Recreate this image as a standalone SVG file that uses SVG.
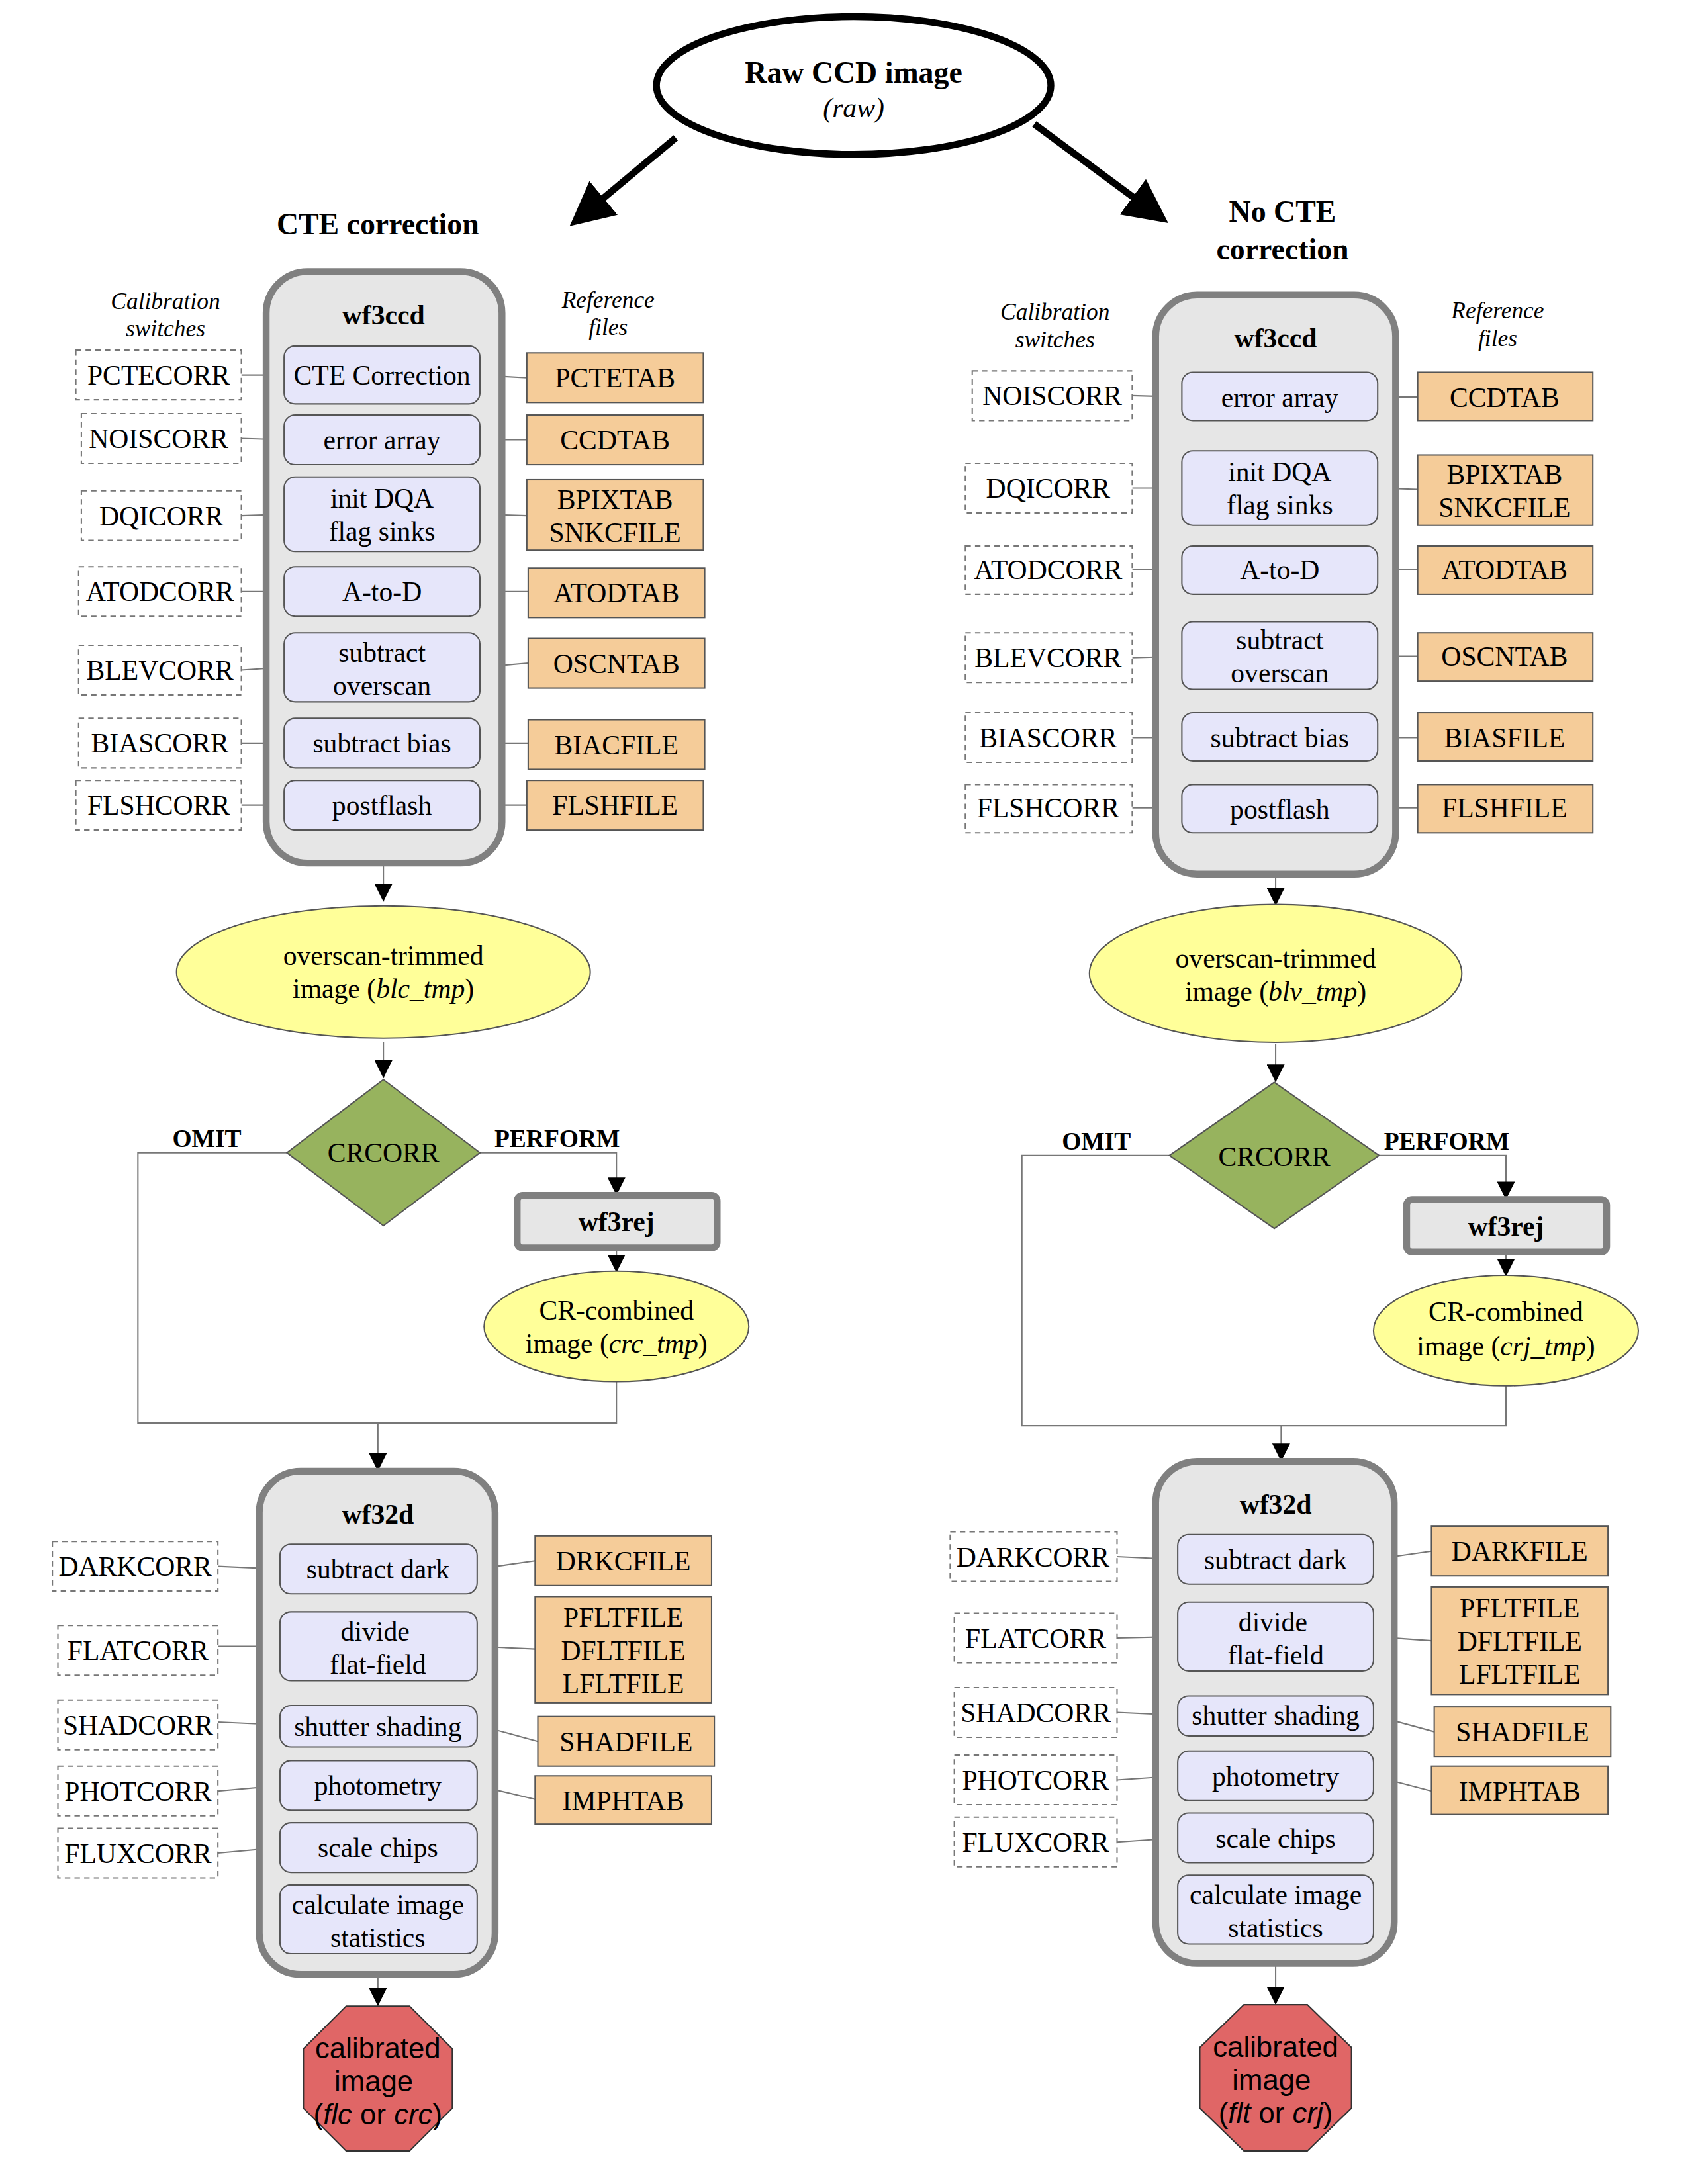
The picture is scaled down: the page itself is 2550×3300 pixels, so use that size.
<svg xmlns="http://www.w3.org/2000/svg" width="2550" height="3300" viewBox="0 0 2550 3300">
<defs>
<style>
text{font-family:"Liberation Serif","Times New Roman",serif;font-size:20px;text-anchor:middle;fill:#000}
.b{font-weight:bold}
.i{font-style:italic;font-size:17px}
.s{font-family:"Liberation Sans",Arial,sans-serif;font-size:21px}
.outer{fill:#e6e6e6;stroke:#808080;stroke-width:5}
.in{fill:#e6e6fa;stroke:#555;stroke-width:1}
.sw{fill:#fff;stroke:#777;stroke-width:1;stroke-dasharray:4 3}
.rf{fill:#f5cc99;stroke:#555;stroke-width:1}
.ell{fill:#ffff99;stroke:#555;stroke-width:1}
.dia{fill:#97b35e;stroke:#555;stroke-width:1}
.oct{fill:#e06666;stroke:#333;stroke-width:1}
.c{fill:none;stroke:#777;stroke-width:1}
.ca{fill:none;stroke:#777;stroke-width:1;marker-end:url(#ah)}
.big{fill:none;stroke:#000;stroke-width:5;marker-end:url(#bh)}
</style>
<marker id="ah" viewBox="0 0 10 10" refX="10" refY="5" markerWidth="13" markerHeight="13" markerUnits="userSpaceOnUse" orient="auto"><path d="M0,0L10,5L0,10z" fill="#000"/></marker>
<marker id="bh" viewBox="0 0 10 10" refX="8" refY="5" markerWidth="32" markerHeight="32" markerUnits="userSpaceOnUse" orient="auto"><path d="M0,0L10,5L0,10z" fill="#000"/></marker>
</defs>
<rect width="2550" height="3300" fill="#fff"/>
<g transform="scale(2.0833)">
<g id="raw"><ellipse cx="619" cy="62" rx="143" ry="50" fill="#fff" stroke="#000" stroke-width="5"/><text x="619" y="60" class="b" style="font-size:22px">Raw CCD image</text><text x="619" y="85" style="font-style:italic">(raw)</text></g>
<g id="titles"><text x="274" y="170" class="b" style="font-size:22px">CTE correction</text><text x="930" y="161" class="b" style="font-size:22px">No CTE</text><text x="930" y="188" class="b" style="font-size:22px">correction</text>
<text x="120" y="224" class="i">Calibration</text><text x="120" y="244" class="i">switches</text><text x="441" y="223" class="i">Reference</text><text x="441" y="243" class="i">files</text>
<text x="765" y="232" class="i">Calibration</text><text x="765" y="252" class="i">switches</text><text x="1086" y="231" class="i">Reference</text><text x="1086" y="251" class="i">files</text></g>

<g id="connectors">
<line class="big" x1="490" y1="100" x2="418" y2="160"/><line class="big" x1="750" y1="90" x2="842" y2="158"/>
<!-- left ccd -->
<line class="ca" x1="175" y1="272" x2="206" y2="272"/><line class="ca" x1="382" y1="274" x2="348" y2="272"/>
<line class="ca" x1="175" y1="318" x2="206" y2="319"/><line class="ca" x1="382" y1="319" x2="348" y2="319"/>
<line class="ca" x1="175" y1="374" x2="206" y2="373"/><line class="ca" x1="382" y1="374" x2="348" y2="373"/>
<line class="ca" x1="175" y1="429" x2="206" y2="429"/><line class="ca" x1="383" y1="429" x2="348" y2="429"/>
<line class="ca" x1="175" y1="486" x2="206" y2="484"/><line class="ca" x1="383" y1="481" x2="348" y2="484"/>
<line class="ca" x1="175" y1="539" x2="206" y2="539"/><line class="ca" x1="383" y1="539" x2="348" y2="539"/>
<line class="ca" x1="175" y1="584" x2="206" y2="584"/><line class="ca" x1="382" y1="584" x2="348" y2="584"/>
<line class="ca" x1="278" y1="626" x2="278" y2="654"/><line class="ca" x1="278" y1="756" x2="278" y2="782"/>
<polyline class="ca" points="348,836 447,836 447,867"/><line class="ca" x1="447" y1="905" x2="447" y2="923"/>
<polyline class="c" points="208,836 100,836 100,1032 447,1032 447,1002"/><line class="ca" x1="274" y1="1032" x2="274" y2="1067"/>
<!-- left 2d -->
<line class="ca" x1="158" y1="1136" x2="203" y2="1138"/><line class="ca" x1="388" y1="1132" x2="346" y2="1138"/>
<line class="ca" x1="158" y1="1194" x2="203" y2="1194"/><line class="ca" x1="388" y1="1196" x2="346" y2="1194"/>
<line class="ca" x1="158" y1="1249" x2="203" y2="1251"/><line class="ca" x1="390" y1="1263" x2="346" y2="1251"/>
<line class="ca" x1="158" y1="1299" x2="203" y2="1295"/><line class="ca" x1="388" y1="1305" x2="346" y2="1295"/>
<line class="ca" x1="158" y1="1344" x2="203" y2="1340"/>
<line class="ca" x1="274" y1="1432" x2="274" y2="1455"/>
<!-- right ccd -->
<line class="ca" x1="821" y1="287" x2="857" y2="288"/><line class="ca" x1="1028" y1="288" x2="999" y2="288"/>
<line class="ca" x1="821" y1="354" x2="857" y2="354"/><line class="ca" x1="1028" y1="355" x2="999" y2="354"/>
<line class="ca" x1="821" y1="413" x2="857" y2="413"/><line class="ca" x1="1028" y1="413" x2="999" y2="413"/>
<line class="ca" x1="821" y1="477" x2="857" y2="476"/><line class="ca" x1="1028" y1="476" x2="999" y2="476"/>
<line class="ca" x1="821" y1="535" x2="857" y2="535"/><line class="ca" x1="1028" y1="535" x2="999" y2="535"/>
<line class="ca" x1="821" y1="586" x2="857" y2="586"/><line class="ca" x1="1028" y1="586" x2="999" y2="586"/>
<line class="ca" x1="925" y1="634" x2="925" y2="657"/><line class="ca" x1="925" y1="757" x2="925" y2="785"/>
<polyline class="ca" points="1000,838 1092,838 1092,870"/><line class="ca" x1="1092" y1="908" x2="1092" y2="926"/>
<polyline class="c" points="848,838 741,838 741,1034 1092,1034 1092,1005"/><line class="ca" x1="929" y1="1034" x2="929" y2="1060"/>
<!-- right 2d -->
<line class="ca" x1="810" y1="1129" x2="854" y2="1131"/><line class="ca" x1="1038" y1="1125" x2="996" y2="1131"/>
<line class="ca" x1="810" y1="1188" x2="854" y2="1187"/><line class="ca" x1="1038" y1="1190" x2="996" y2="1187"/>
<line class="ca" x1="810" y1="1242" x2="854" y2="1244"/><line class="ca" x1="1040" y1="1256" x2="996" y2="1244"/>
<line class="ca" x1="810" y1="1291" x2="854" y2="1288"/><line class="ca" x1="1038" y1="1299" x2="996" y2="1288"/>
<line class="ca" x1="810" y1="1336" x2="854" y2="1333"/>
<line class="ca" x1="925" y1="1424" x2="925" y2="1454"/>
</g>

<g id="wf3ccd_L"><rect class="outer" x="193" y="197" width="171" height="429" rx="30"/><text x="278" y="235" class="b">wf3ccd</text></g>
<g id="L_cte"><rect class="in" x="206" y="251" width="142" height="42" rx="8"/><text x="277" y="279">CTE Correction</text></g>
<g id="L_err"><rect class="in" x="206" y="301" width="142" height="36" rx="8"/><text x="277" y="326">error array</text></g>
<g id="L_dqa"><rect class="in" x="206" y="346" width="142" height="54" rx="8"/><text x="277" y="368">init DQA</text><text x="277" y="392">flag sinks</text></g>
<g id="L_atod"><rect class="in" x="206" y="411" width="142" height="36" rx="8"/><text x="277" y="436">A-to-D</text></g>
<g id="L_osc"><rect class="in" x="206" y="459" width="142" height="50" rx="8"/><text x="277" y="480">subtract</text><text x="277" y="504">overscan</text></g>
<g id="L_bias"><rect class="in" x="206" y="521" width="142" height="36" rx="8"/><text x="277" y="546">subtract bias</text></g>
<g id="L_pf"><rect class="in" x="206" y="566" width="142" height="36" rx="8"/><text x="277" y="591">postflash</text></g>
<g id="L_sw1"><rect class="sw" x="55" y="254" width="120" height="36"/><text x="115" y="279">PCTECORR</text></g>
<g id="L_sw2"><rect class="sw" x="59" y="300" width="116" height="36"/><text x="115" y="325">NOISCORR</text></g>
<g id="L_sw3"><rect class="sw" x="59" y="356" width="116" height="36"/><text x="117" y="381">DQICORR</text></g>
<g id="L_sw4"><rect class="sw" x="57" y="411" width="118" height="36"/><text x="116" y="436">ATODCORR</text></g>
<g id="L_sw5"><rect class="sw" x="57" y="468" width="118" height="36"/><text x="116" y="493">BLEVCORR</text></g>
<g id="L_sw6"><rect class="sw" x="57" y="521" width="118" height="36"/><text x="116" y="546">BIASCORR</text></g>
<g id="L_sw7"><rect class="sw" x="55" y="566" width="120" height="36"/><text x="115" y="591">FLSHCORR</text></g>
<g id="L_rf1"><rect class="rf" x="382" y="256" width="128" height="36"/><text x="446" y="281">PCTETAB</text></g>
<g id="L_rf2"><rect class="rf" x="382" y="301" width="128" height="36"/><text x="446" y="326">CCDTAB</text></g>
<g id="L_rf3"><rect class="rf" x="382" y="348" width="128" height="51" rx="0"/><text x="446" y="369">BPIXTAB</text><text x="446" y="393">SNKCFILE</text></g>
<g id="L_rf4"><rect class="rf" x="383" y="412" width="128" height="36"/><text x="447" y="437">ATODTAB</text></g>
<g id="L_rf5"><rect class="rf" x="383" y="463" width="128" height="36"/><text x="447" y="488">OSCNTAB</text></g>
<g id="L_rf6"><rect class="rf" x="383" y="522" width="128" height="36"/><text x="447" y="547">BIACFILE</text></g>
<g id="L_rf7"><rect class="rf" x="382" y="566" width="128" height="36"/><text x="446" y="591">FLSHFILE</text></g>

<g id="L_blc"><ellipse class="ell" cx="278" cy="705" rx="150" ry="48"/><text x="278" y="700">overscan-trimmed</text><text x="278" y="724">image (<tspan font-style="italic">blc_tmp</tspan>)</text></g>
<g id="L_cr"><polygon class="dia" points="278,783 348,836 278,889 208,836"/><text x="278" y="843">CRCORR</text><text x="150" y="832" class="b" style="font-size:18px">OMIT</text><text x="404" y="832" class="b" style="font-size:18px">PERFORM</text></g>
<g id="L_rej"><rect class="outer" x="375" y="867" width="145" height="38" rx="4"/><text x="447" y="893" class="b">wf3rej</text></g>
<g id="L_crc"><ellipse class="ell" cx="447" cy="962" rx="96" ry="40"/><text x="447" y="957">CR-combined</text><text x="447" y="981">image (<tspan font-style="italic">crc_tmp</tspan>)</text></g>

<g id="wf32d_L"><rect class="outer" x="188" y="1067" width="171" height="365" rx="30"/><text x="274" y="1105" class="b">wf32d</text></g>
<g id="L_dark"><rect class="in" x="203" y="1120" width="143" height="36" rx="8"/><text x="274" y="1145">subtract dark</text></g>
<g id="L_flat"><rect class="in" x="203" y="1169" width="143" height="50" rx="8"/><text x="272" y="1190">divide</text><text x="274" y="1214">flat-field</text></g>
<g id="L_shad"><rect class="in" x="203" y="1237" width="143" height="30" rx="8"/><text x="274" y="1259">shutter shading</text></g>
<g id="L_phot"><rect class="in" x="203" y="1277" width="143" height="36" rx="8"/><text x="274" y="1302">photometry</text></g>
<g id="L_scale"><rect class="in" x="203" y="1322" width="143" height="36" rx="8"/><text x="274" y="1347">scale chips</text></g>
<g id="L_stat"><rect class="in" x="203" y="1367" width="143" height="50" rx="8"/><text x="274" y="1388">calculate image</text><text x="274" y="1412">statistics</text></g>
<g id="L_sw8"><rect class="sw" x="38" y="1118" width="120" height="36"/><text x="98" y="1143">DARKCORR</text></g>
<g id="L_sw9"><rect class="sw" x="42" y="1179" width="116" height="36"/><text x="100" y="1204">FLATCORR</text></g>
<g id="L_sw10"><rect class="sw" x="42" y="1233" width="116" height="36"/><text x="100" y="1258">SHADCORR</text></g>
<g id="L_sw11"><rect class="sw" x="42" y="1281" width="116" height="36"/><text x="100" y="1306">PHOTCORR</text></g>
<g id="L_sw12"><rect class="sw" x="42" y="1326" width="116" height="36"/><text x="100" y="1351">FLUXCORR</text></g>
<g id="L_rf8"><rect class="rf" x="388" y="1114" width="128" height="36"/><text x="452" y="1139">DRKCFILE</text></g>
<g id="L_rf9"><rect class="rf" x="388" y="1158" width="128" height="77"/><text x="452" y="1180">PFLTFILE</text><text x="452" y="1204">DFLTFILE</text><text x="452" y="1228">LFLTFILE</text></g>
<g id="L_rf10"><rect class="rf" x="390" y="1245" width="128" height="36"/><text x="454" y="1270">SHADFILE</text></g>
<g id="L_rf11"><rect class="rf" x="388" y="1288" width="128" height="35"/><text x="452" y="1313">IMPHTAB</text></g>
<g id="L_out"><polygon class="oct" points="251,1455 297,1455 328,1486 328,1529 297,1560 251,1560 220,1529 220,1486"/><text x="274" y="1493" class="s">calibrated</text><text x="271" y="1517" class="s">image</text><text x="274" y="1541" class="s">(<tspan font-style="italic">flc</tspan> or <tspan font-style="italic">crc</tspan>)</text></g>

<!-- right -->
<g id="wf3ccd_R"><rect class="outer" x="838" y="214" width="174" height="420" rx="30"/><text x="925" y="252" class="b">wf3ccd</text></g>
<g id="R_err"><rect class="in" x="857" y="270" width="142" height="35" rx="8"/><text x="928" y="295">error array</text></g>
<g id="R_dqa"><rect class="in" x="857" y="327" width="142" height="54" rx="8"/><text x="928" y="349">init DQA</text><text x="928" y="373">flag sinks</text></g>
<g id="R_atod"><rect class="in" x="857" y="396" width="142" height="35" rx="8"/><text x="928" y="420">A-to-D</text></g>
<g id="R_osc"><rect class="in" x="857" y="451" width="142" height="49" rx="8"/><text x="928" y="471">subtract</text><text x="928" y="495">overscan</text></g>
<g id="R_bias"><rect class="in" x="857" y="517" width="142" height="35" rx="8"/><text x="928" y="542">subtract bias</text></g>
<g id="R_pf"><rect class="in" x="857" y="569" width="142" height="35" rx="8"/><text x="928" y="594">postflash</text></g>
<g id="R_sw1"><rect class="sw" x="705" y="269" width="116" height="36"/><text x="763" y="294">NOISCORR</text></g>
<g id="R_sw2"><rect class="sw" x="700" y="336" width="121" height="36"/><text x="760" y="361">DQICORR</text></g>
<g id="R_sw3"><rect class="sw" x="700" y="396" width="121" height="35"/><text x="760" y="420">ATODCORR</text></g>
<g id="R_sw4"><rect class="sw" x="700" y="459" width="121" height="36"/><text x="760" y="484">BLEVCORR</text></g>
<g id="R_sw5"><rect class="sw" x="700" y="517" width="121" height="36"/><text x="760" y="542">BIASCORR</text></g>
<g id="R_sw6"><rect class="sw" x="700" y="569" width="121" height="35"/><text x="760" y="593">FLSHCORR</text></g>
<g id="R_rf1"><rect class="rf" x="1028" y="270" width="127" height="35"/><text x="1091" y="295">CCDTAB</text></g>
<g id="R_rf2"><rect class="rf" x="1028" y="330" width="127" height="51"/><text x="1091" y="351">BPIXTAB</text><text x="1091" y="375">SNKCFILE</text></g>
<g id="R_rf3"><rect class="rf" x="1028" y="396" width="127" height="35"/><text x="1091" y="420">ATODTAB</text></g>
<g id="R_rf4"><rect class="rf" x="1028" y="459" width="127" height="35"/><text x="1091" y="483">OSCNTAB</text></g>
<g id="R_rf5"><rect class="rf" x="1028" y="517" width="127" height="35"/><text x="1091" y="542">BIASFILE</text></g>
<g id="R_rf6"><rect class="rf" x="1028" y="569" width="127" height="35"/><text x="1091" y="593">FLSHFILE</text></g>

<g id="R_blv"><ellipse class="ell" cx="925" cy="706" rx="135" ry="50"/><text x="925" y="702">overscan-trimmed</text><text x="925" y="726">image (<tspan font-style="italic">blv_tmp</tspan>)</text></g>
<g id="R_cr"><polygon class="dia" points="924,785 1000,838 924,891 848,838"/><text x="924" y="846">CRCORR</text><text x="795" y="834" class="b" style="font-size:18px">OMIT</text><text x="1049" y="834" class="b" style="font-size:18px">PERFORM</text></g>
<g id="R_rej"><rect class="outer" x="1020" y="870" width="145" height="38" rx="4"/><text x="1092" y="896" class="b">wf3rej</text></g>
<g id="R_crj"><ellipse class="ell" cx="1092" cy="965" rx="96" ry="40"/><text x="1092" y="958">CR-combined</text><text x="1092" y="983">image (<tspan font-style="italic">crj_tmp</tspan>)</text></g>

<g id="wf32d_R"><rect class="outer" x="838" y="1060" width="173" height="364" rx="30"/><text x="925" y="1098" class="b">wf32d</text></g>
<g id="R_dark"><rect class="in" x="854" y="1113" width="142" height="36" rx="8"/><text x="925" y="1138">subtract dark</text></g>
<g id="R_flat"><rect class="in" x="854" y="1162" width="142" height="50" rx="8"/><text x="923" y="1183">divide</text><text x="925" y="1207">flat-field</text></g>
<g id="R_shad"><rect class="in" x="854" y="1230" width="142" height="29" rx="8"/><text x="925" y="1251">shutter shading</text></g>
<g id="R_phot"><rect class="in" x="854" y="1270" width="142" height="36" rx="8"/><text x="925" y="1295">photometry</text></g>
<g id="R_scale"><rect class="in" x="854" y="1315" width="142" height="36" rx="8"/><text x="925" y="1340">scale chips</text></g>
<g id="R_stat"><rect class="in" x="854" y="1360" width="142" height="50" rx="8"/><text x="925" y="1381">calculate image</text><text x="925" y="1405">statistics</text></g>
<g id="R_sw7"><rect class="sw" x="689" y="1111" width="121" height="36"/><text x="749" y="1136">DARKCORR</text></g>
<g id="R_sw8"><rect class="sw" x="692" y="1170" width="118" height="36"/><text x="751" y="1195">FLATCORR</text></g>
<g id="R_sw9"><rect class="sw" x="692" y="1224" width="118" height="36"/><text x="751" y="1249">SHADCORR</text></g>
<g id="R_sw10"><rect class="sw" x="692" y="1273" width="118" height="36"/><text x="751" y="1298">PHOTCORR</text></g>
<g id="R_sw11"><rect class="sw" x="692" y="1318" width="118" height="36"/><text x="751" y="1343">FLUXCORR</text></g>
<g id="R_rf7"><rect class="rf" x="1038" y="1107" width="128" height="36"/><text x="1102" y="1132">DARKFILE</text></g>
<g id="R_rf8"><rect class="rf" x="1038" y="1151" width="128" height="78"/><text x="1102" y="1173">PFLTFILE</text><text x="1102" y="1197">DFLTFILE</text><text x="1102" y="1221">LFLTFILE</text></g>
<g id="R_rf9"><rect class="rf" x="1040" y="1238" width="128" height="36"/><text x="1104" y="1263">SHADFILE</text></g>
<g id="R_rf10"><rect class="rf" x="1038" y="1281" width="128" height="35"/><text x="1102" y="1306">IMPHTAB</text></g>
<g id="R_out"><polygon class="oct" points="902,1454 948,1454 980,1485 980,1529 948,1560 902,1560 870,1529 870,1485"/><text x="925" y="1492" class="s">calibrated</text><text x="922" y="1516" class="s">image</text><text x="925" y="1540" class="s">(<tspan font-style="italic">flt</tspan> or <tspan font-style="italic">crj</tspan>)</text></g>
</g>
</svg>
